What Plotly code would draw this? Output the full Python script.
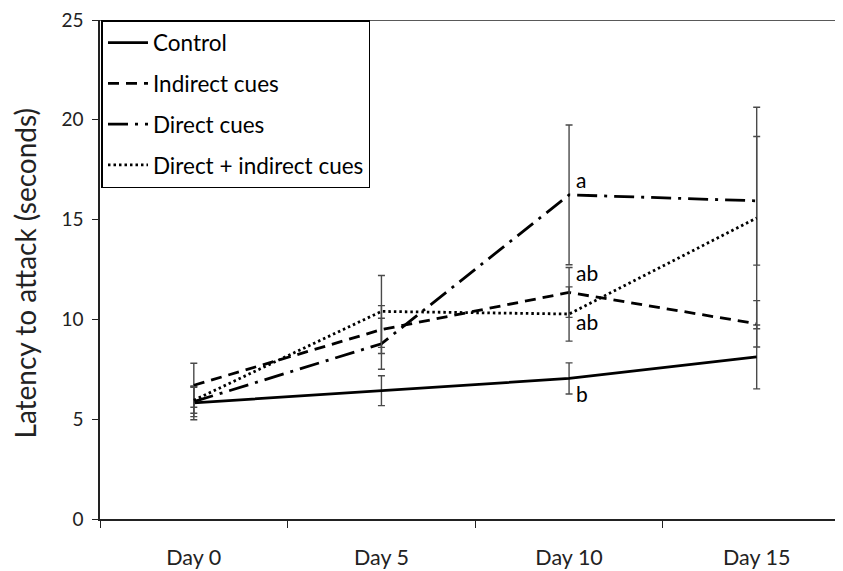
import plotly.graph_objects as go

days = ["Day 0", "Day 5", "Day 10", "Day 15"]
series_names = ["Control", "Indirect cues", "Direct cues", "Direct + indirect cues"]
control = [5.82, 6.43, 7.04, 8.12]
control_err = [0.85, 0.75, 0.78, 1.60]
indirect = [6.70, 9.49, 11.35, 9.78]
indirect_err = [1.10, 1.20, 1.25, 1.16]
direct = [5.88, 8.78, 16.24, 15.94]
direct_err = [0.75, 1.28, 3.50, 3.22]
direct_indirect = [5.95, 10.40, 10.27, 15.08]
direct_indirect_err = [0.65, 1.80, 1.36, 5.55]

y_ticks = [0, 5, 10, 15, 20, 25]
y_title = "Latency to attack (seconds)"

letters = ["a", "ab", "ab", "b"]
letter_y = [17.0, 12.35, 9.9, 6.3]
letter_day = "Day 10"

values = [control, indirect, direct, direct_indirect]
errors = [control_err, indirect_err, direct_err, direct_indirect_err]
dashes = ["solid", "11px,7px", "20px,7px,3px,7px", "2.5px,3px"]
widths = [2.8, 2.8, 2.8, 2.8]

FONT = "Lato"

fig = go.Figure()
for i, (name, v, e) in enumerate(zip(series_names, values, errors)):
    fig.add_trace(go.Scatter(
        x=days, y=v, name=name, mode="lines",
        line=dict(color="black", width=widths[i], dash=dashes[i]),
        error_y=dict(type="data", array=e, visible=True, color="#4a4a4a",
                     thickness=1.4, width=3.5),
        legendgroup=name,
    ))

for t, yv in zip(letters, letter_y):
    fig.add_annotation(x=letter_day, y=yv, text=t, showarrow=False,
                       xanchor="left", xshift=5,
                       font=dict(family=FONT, size=21, color="black"))

# y-axis title (placed as rotated text so it can sit close to the figure edge)
fig.add_annotation(xref="paper", yref="paper", x=0, y=0.5, text=y_title,
                   textangle=-90, showarrow=False, xanchor="center", yanchor="middle",
                   xshift=-76, yshift=-4,
                   font=dict(family=FONT, size=28, color="#222"))

fig.add_shape(type="line", xref="paper", yref="y", x0=0, x1=1, y0=25, y1=25,
              line=dict(color="#222", width=1.5))
fig.add_shape(type="line", xref="paper", yref="paper", x0=1, x1=1, y0=0, y1=1,
              line=dict(color="#bbb", width=1))

fig.update_layout(
    width=835, height=571,
    margin=dict(l=92, r=0, t=9, b=60),
    paper_bgcolor="white", plot_bgcolor="white",
    font=dict(family=FONT, color="#222"),
    legend=dict(x=0.002, y=1, xanchor="left", yanchor="top",
                bordercolor="black", borderwidth=1.5,
                font=dict(family=FONT, size=22.5, color="black"),
                traceorder="grouped", tracegroupgap=8.5, itemwidth=40,
                bgcolor="white"),
    showlegend=True,
)
fig.update_xaxes(type="category", range=[-0.5, 3.46], showline=True, linecolor="#222",
                 linewidth=1.5, ticks="outside", tickson="boundaries", ticklen=7,
                 tickcolor="#222", tickfont=dict(family=FONT, size=21.5, color="#222"),
                 showgrid=False, zeroline=False, ticklabelstandoff=18)
fig.update_yaxes(range=[0, 25], tickmode="array", tickvals=y_ticks,
                 showline=True, linecolor="#222", linewidth=1.5,
                 ticks="outside", ticklen=6, tickcolor="#222",
                 tickfont=dict(family=FONT, size=19, color="#222"),
                 ticklabeloverflow="allow",
                 showgrid=False, zeroline=False, ticklabelstandoff=5)

fig.write_html("out.html")
